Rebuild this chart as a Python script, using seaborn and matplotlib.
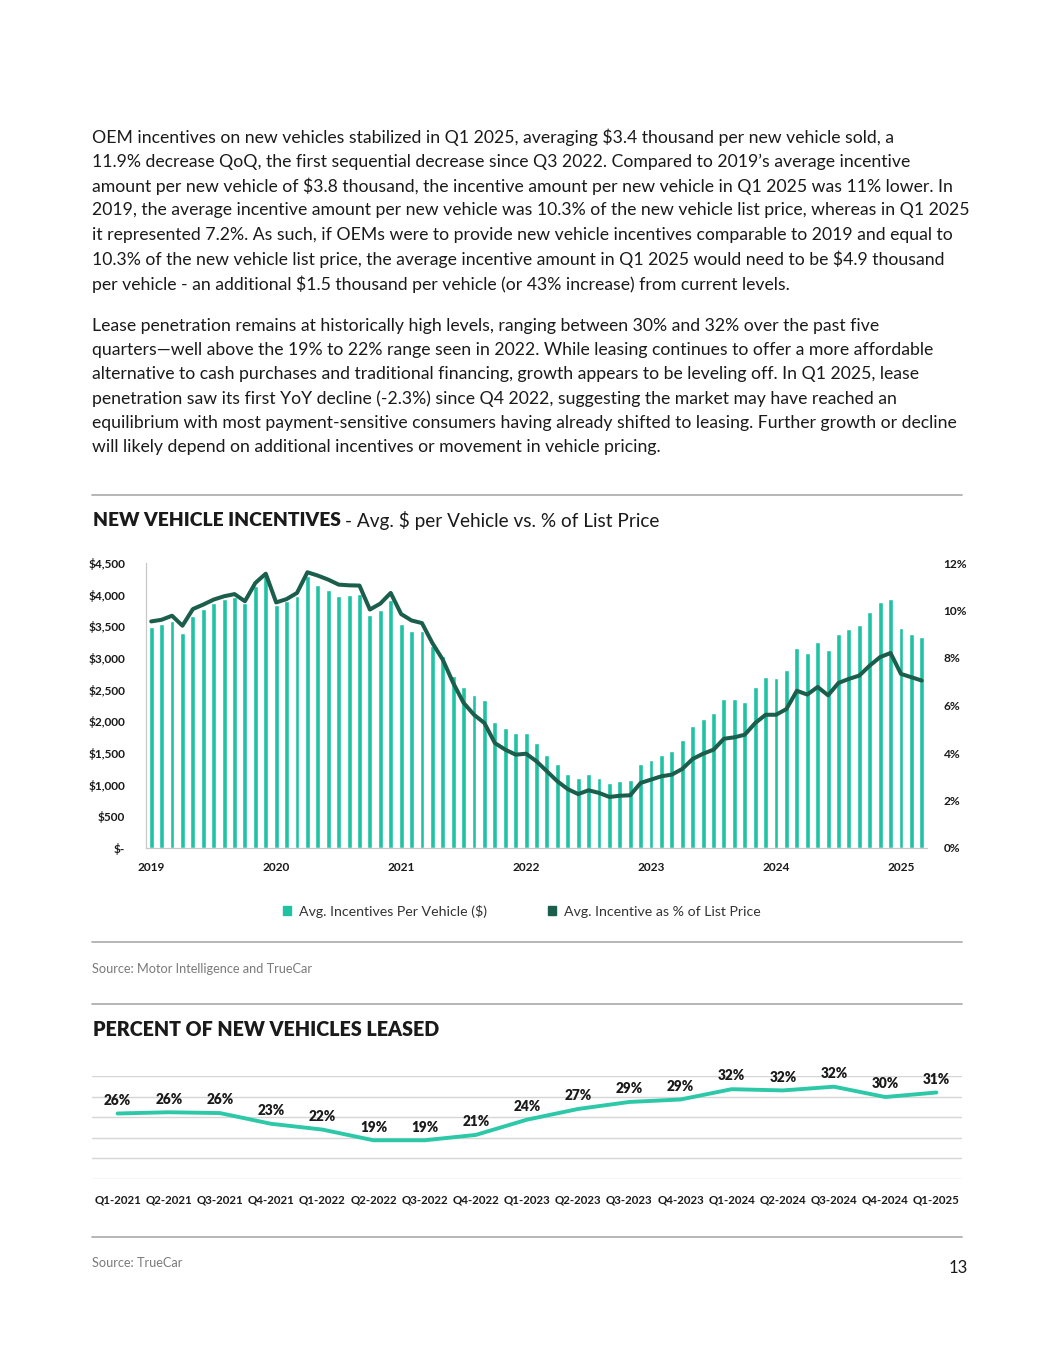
import matplotlib
matplotlib.use("Agg")
import matplotlib.pyplot as plt
import seaborn as sns
import pandas as pd
from matplotlib.lines import Line2D
from matplotlib.patches import Patch

# =========================
#          DATA
# =========================
years = ["2019", "2020", "2021", "2022", "2023", "2024", "2025"]

# monthly, Jan 2019 .. Mar 2025
incentive_usd = [
    3490, 3537, 3584, 3389, 3663, 3780, 3870, 3930, 3960, 3870, 4130, 4300,
    3842, 3895, 3984, 4300, 4158, 4068, 3974, 3995, 4016, 3684, 3763, 3921,
    3542, 3432, 3432, 3184, 3037, 2721, 2537, 2410, 2342, 1989, 1895, 1810,
    1810, 1658, 1468, 1321, 1174, 1100, 1163, 1105, 1021, 1053, 1068, 1326,
    1384, 1468, 1532, 1705, 1932, 2037, 2137, 2358, 2358, 2311, 2542, 2695,
    2690, 2816, 3158, 3074, 3258, 3121, 3384, 3453, 3521, 3731, 3884, 3932,
    3468, 3374, 3326,
]
incentive_pct = [
    9.54, 9.61, 9.78, 9.36, 10.06, 10.25, 10.46, 10.60, 10.69, 10.39, 11.16, 11.55,
    10.34, 10.48, 10.74, 11.61, 11.47, 11.30, 11.09, 11.06, 11.05, 10.04, 10.29, 10.74,
    9.85, 9.58, 9.47, 8.63, 7.93, 6.95, 6.11, 5.61, 5.26, 4.42, 4.14, 3.93,
    3.97, 3.65, 3.23, 2.81, 2.48, 2.27, 2.43, 2.32, 2.15, 2.20, 2.22, 2.74,
    2.88, 3.02, 3.09, 3.33, 3.75, 3.97, 4.14, 4.60, 4.66, 4.77, 5.26, 5.61,
    5.61, 5.85, 6.62, 6.46, 6.78, 6.43, 6.95, 7.12, 7.26, 7.68, 8.04, 8.21,
    7.33, 7.19, 7.05,
]
usd_ticks = [0, 500, 1000, 1500, 2000, 2500, 3000, 3500, 4000, 4500]
pct_ticks = [0, 2, 4, 6, 8, 10, 12]

quarters = ["Q1-2021", "Q2-2021", "Q3-2021", "Q4-2021", "Q1-2022", "Q2-2022",
            "Q3-2022", "Q4-2022", "Q1-2023", "Q2-2023", "Q3-2023", "Q4-2023",
            "Q1-2024", "Q2-2024", "Q3-2024", "Q4-2024", "Q1-2025"]
lease_pct = [25.9, 26.2, 26.0, 23.4, 22.0, 19.4, 19.4, 20.7, 24.4, 27.0,
             28.7, 29.3, 31.8, 31.5, 32.4, 29.9, 31.0]

para1 = [
    "OEM incentives on new vehicles stabilized in Q1 2025, averaging $3.4 thousand per new vehicle sold, a",
    "11.9% decrease QoQ, the first sequential decrease since Q3 2022. Compared to 2019\u2019s average incentive",
    "amount per new vehicle of $3.8 thousand, the incentive amount per new vehicle in Q1 2025 was 11% lower. In",
    "2019, the average incentive amount per new vehicle was 10.3% of the new vehicle list price, whereas in Q1 2025",
    "it represented 7.2%. As such, if OEMs were to provide new vehicle incentives comparable to 2019 and equal to",
    "10.3% of the new vehicle list price, the average incentive amount in Q1 2025 would need to be $4.9 thousand",
    "per vehicle - an additional $1.5 thousand per vehicle (or 43% increase) from current levels.",
]
para2 = [
    "Lease penetration remains at historically high levels, ranging between 30% and 32% over the past five",
    "quarters\u2014well above the 19% to 22% range seen in 2022. While leasing continues to offer a more affordable",
    "alternative to cash purchases and traditional financing, growth appears to be leveling off. In Q1 2025, lease",
    "penetration saw its first YoY decline (-2.3%) since Q4 2022, suggesting the market may have reached an",
    "equilibrium with most payment-sensitive consumers having already shifted to leasing. Further growth or decline",
    "will likely depend on additional incentives or movement in vehicle pricing.",
]

# =========================
#          STYLE
# =========================
BAR = "#1fc3a3"
LINE = "#1b5e4c"
LEASE = "#2dc8a7"
RULE = "#a9a9a9"
TXT = "#1a1a1a"

sns.set_theme(style="white")
plt.rcParams["font.family"] = ["Lato", "DejaVu Sans"]
plt.rcParams["text.parse_math"] = False

W, H = 1055, 1365
fig = plt.figure(figsize=(W / 100, H / 100), dpi=100)


def fx(px):
    return px / W


def fy(py):
    return 1 - py / H


# ---- paragraphs
for i, line in enumerate(para1):
    fig.text(fx(92), fy(137 + i * 24.5), line, fontsize=12.7, color=TXT, va="center")
for i, line in enumerate(para2):
    fig.text(fx(92), fy(326 + i * 24.2), line, fontsize=12.7, color=TXT, va="center")

# ---- rules
for yy in [495, 942, 1004, 1237]:
    fig.add_artist(Line2D([fx(92), fx(962)], [fy(yy), fy(yy)], color=RULE, lw=1.2))

# ---- chart 1 title
t = fig.text(fx(93), fy(521), "NEW VEHICLE INCENTIVES", fontsize=13.9,
             fontweight="heavy", color=TXT, va="center")
fig.canvas.draw()
bb = t.get_window_extent()
fig.text(bb.x1 / W + fx(4), fy(521), "- Avg. $ per Vehicle vs. % of List Price",
         fontsize=13.7, color=TXT, va="center")

# =========================
#   CHART 1: incentives
# =========================
df = pd.DataFrame({
    "month": range(len(incentive_usd)),
    "usd": incentive_usd,
    "pct": incentive_pct,
})

ax = fig.add_axes([fx(146), fy(848), fx(927) - fx(146), (848 - 563) / H])
sns.barplot(data=df, x="month", y="usd", color=BAR, saturation=1, width=0.47, ax=ax)
ax.set_ylim(0, 4500)
ax.set_yticks(usd_ticks)
ax.set_yticklabels(["$-"] + [f"${v:,}" for v in usd_ticks[1:]])
ax.set_xlim(-0.5, len(incentive_usd) - 0.5)
ax.set_xticks(range(0, len(incentive_usd), 12))
ax.set_xticklabels(years)
ax.set_xticks([i * 12 - 0.5 for i in range(len(years))], minor=True)
ax.tick_params(axis="x", which="major", length=0, pad=10, labelsize=8.6, labelcolor=TXT)
ax.tick_params(axis="x", which="minor", length=4, width=0.8, color="#bfbfbf", direction="out")
ax.tick_params(axis="y", length=0, pad=15, labelsize=8.6, labelcolor=TXT)
for lab in ax.get_xticklabels() + ax.get_yticklabels():
    lab.set_fontweight("bold")
ax.set_xlabel("")
ax.set_ylabel("")
for s in ["top", "right"]:
    ax.spines[s].set_visible(False)
ax.spines["left"].set_color("#c8c8c8")
ax.spines["bottom"].set_color("#c8c8c8")
ax.spines["left"].set_linewidth(0.9)
ax.spines["bottom"].set_linewidth(0.9)

ax2 = ax.twinx()
sns.lineplot(data=df, x="month", y="pct", color=LINE, lw=2.9, ax=ax2)
ax2.set_ylim(0, 12)
ax2.set_yticks(pct_ticks)
ax2.set_yticklabels([f"{v}%" for v in pct_ticks])
ax2.set_xlim(-0.5, len(incentive_usd) - 0.5)
ax2.tick_params(axis="y", length=0, pad=12, labelsize=8.6, labelcolor=TXT)
for lab in ax2.get_yticklabels():
    lab.set_fontweight("bold")
ax2.set_ylabel("")
for s in ["top", "right", "left", "bottom"]:
    ax2.spines[s].set_visible(False)

handles = [Patch(color=BAR, label="Avg. Incentives Per Vehicle ($)"),
           Patch(color=LINE, label="Avg. Incentive as % of List Price")]
fig.legend(handles=handles, loc="center", bbox_to_anchor=(fx(522), fy(911)), ncol=2,
           frameon=False, fontsize=10.2, handlelength=0.55, handleheight=0.55,
           handletextpad=0.6, columnspacing=4.3, labelcolor="#333333")

fig.text(fx(92), fy(969), "Source: Motor Intelligence and TrueCar", fontsize=9.2,
         color="#7a7a7a", va="center")

# =========================
#   CHART 2: lease share
# =========================
fig.text(fx(93), fy(1029), "PERCENT OF NEW VEHICLES LEASED", fontsize=14.2,
         fontweight="heavy", color=TXT, va="center")

lease = pd.DataFrame({"quarter": quarters, "pct": lease_pct})
bx = fig.add_axes([fx(92), fy(1179), fx(962) - fx(92), (1179 - 1076) / H])
sns.lineplot(data=lease, x="quarter", y="pct", color=LEASE, lw=2.8, sort=False, ax=bx)
bx.set_ylim(10, 35)
bx.set_yticks([10, 15, 20, 25, 30, 35])
bx.set_xlim(-0.5, len(quarters) - 0.5)
bx.grid(axis="y", color="#d6d6d6", lw=1.0)
bx.set_axisbelow(True)
bx.tick_params(axis="y", left=False, labelleft=False)
bx.tick_params(axis="x", length=0, pad=11, labelsize=8.3, labelcolor=TXT)
for lab in bx.get_xticklabels():
    lab.set_fontweight("bold")
bx.set_xlabel("")
bx.set_ylabel("")
for s in ["top", "right", "left", "bottom"]:
    bx.spines[s].set_visible(False)

for i, v in enumerate(lease_pct):
    bx.annotate(f"{round(v)}%", (i, v), xytext=(0, 9.5), textcoords="offset points",
                ha="center", va="center", fontsize=9.8, fontweight="heavy", color=TXT)

fig.text(fx(92), fy(1263), "Source: TrueCar", fontsize=9.2, color="#7a7a7a", va="center")
fig.text(fx(968), fy(1268), "13", fontsize=12, color=TXT, va="center", ha="right")

fig.savefig("out.png", dpi=100)
